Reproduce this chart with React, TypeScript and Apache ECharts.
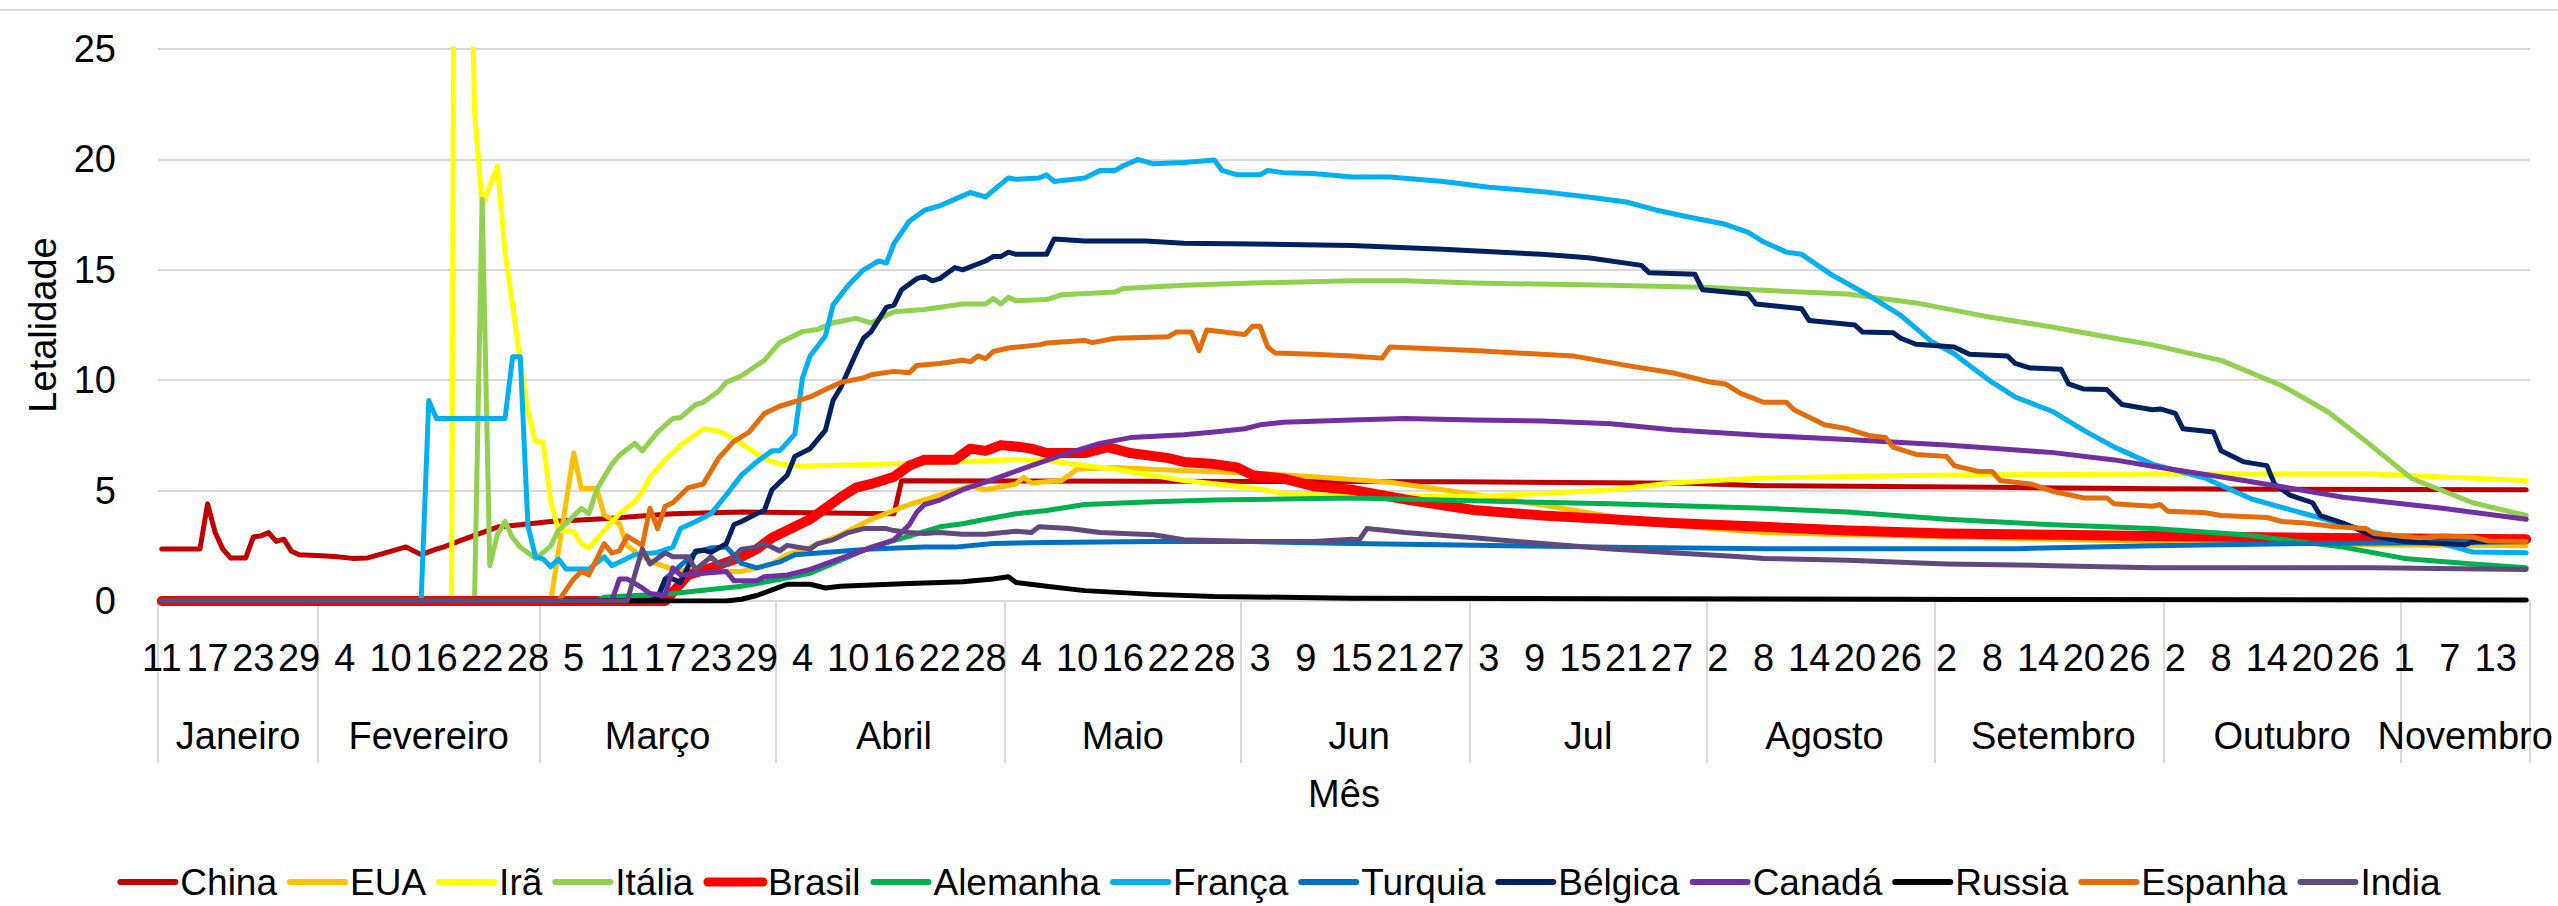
import React, { useEffect, useRef } from "react";
import * as echarts from "echarts";

// ---- axis / category data ----
const monthNames = ["Janeiro", "Fevereiro", "Março", "Abril", "Maio", "Jun", "Jul", "Agosto", "Setembro", "Outubro", "Novembro"];
const monthFirstDay = [11, 1, 1, 1, 1, 1, 1, 1, 1, 1, 1];
const monthLastDay = [31, 29, 31, 30, 31, 30, 31, 30, 30, 31, 17];
const dayLabelEvery = 6;
const yMin = 0;
const yMax = 25;
const yInterval = 5;

const seriesNames = ["China", "EUA", "Irã", "Itália", "Brasil", "Alemanha", "França", "Turquia", "Bélgica", "Canadá", "Russia", "Espanha", "India"];
const seriesColors = ["#C00000", "#FFC000", "#FFFF00", "#92D050", "#FF0000", "#00B050", "#00B0F0", "#0070C0", "#002060", "#7030A0", "#000000", "#E46C0A", "#604A7B"];

// [day position (0 = 11 Jan), lethality %]
const china = [[0,2.35],[5,2.35],[6,4.4],[7,3.1],[8,2.35],[9,1.95],[11,1.95],[12,2.9],[13,2.95],[14,3.1],[15,2.7],[16,2.8],[17,2.25],[18,2.1],[21,2.05],[23,2.0],[25,1.93],[27,1.95],[30,2.25],[32,2.45],[34,2.1],[36,2.35],[37,2.45],[40,2.85],[42,3.1],[44,3.35],[47,3.45],[51,3.6],[58,3.73],[67,3.95],[76,4.03],[85,4.0],[96,3.95],[97,5.45],[130,5.42],[170,5.4],[200,5.33],[210,5.22],[240,5.15],[262,5.08],[310,5.04]];
const eua = [[0,0],[51,0],[54,6.7],[55,5.1],[57,5.1],[58,3.9],[60,3.5],[61,2.5],[63,2.0],[65,1.68],[67,1.43],[71,1.34],[76,1.34],[78,1.5],[80,1.68],[82,2.1],[85,2.44],[89,3.0],[93,3.7],[98,4.37],[102,4.8],[105,5.1],[106,5.2],[108,5.04],[112,5.3],[113,5.6],[114,5.34],[118,5.46],[120,5.97],[125,6.05],[134,5.9],[143,5.8],[151,5.63],[156,5.5],[161,5.38],[168,5.04],[176,4.62],[185,4.12],[194,3.6],[203,3.28],[210,3.1],[235,2.9],[262,2.7],[290,2.55],[310,2.5]];
const ira = [[0,0],[38,0],[39,100],[40,40],[41,22.2],[42,17.9],[43,18.8],[44,19.7],[45,15.8],[46,13.4],[47,10.8],[48,8.6],[49,7.2],[50,7.2],[51,4.5],[52,3.2],[54,3.15],[55,2.6],[56,2.4],[58,3.2],[60,3.95],[62,4.5],[63,4.95],[64,5.6],[66,6.4],[68,7.05],[71,7.8],[73,7.7],[75,7.35],[77,6.9],[79,6.45],[81,6.2],[84,6.1],[95,6.2],[103,6.3],[112,6.4],[116,6.35],[125,5.97],[134,5.46],[143,5.13],[147,4.87],[152,4.8],[160,4.75],[172,4.74],[181,4.87],[190,5.04],[198,5.34],[209,5.56],[234,5.71],[261,5.75],[290,5.75],[310,5.46]];
const italia = [[0,0],[41,0],[42,18.2],[43,1.6],[44,3.0],[45,3.6],[46,2.86],[47,2.44],[48,2.18],[49,1.93],[50,2.2],[51,2.5],[52,3.2],[53,3.5],[55,4.2],[56,3.95],[57,5.04],[59,6.2],[60,6.6],[62,7.14],[63,6.8],[65,7.65],[67,8.27],[68,8.3],[70,8.9],[71,9.0],[73,9.5],[74,9.9],[76,10.2],[79,10.9],[81,11.7],[84,12.2],[86,12.3],[88,12.6],[91,12.8],[93,12.6],[95,12.94],[96,13.1],[100,13.2],[105,13.45],[108,13.45],[109,13.7],[110,13.45],[111,13.75],[112,13.6],[116,13.65],[118,13.87],[125,14.0],[126,14.15],[134,14.3],[143,14.4],[156,14.5],[163,14.5],[172,14.4],[190,14.3],[203,14.2],[210,14.07],[221,13.9],[230,13.5],[239,12.9],[248,12.4],[256,11.9],[261,11.6],[270,10.9],[278,9.75],[284,8.57],[289,7.23],[295,5.55],[303,4.45],[310,3.87]];
const brasil = [[0,0],[66,0],[67,0.4],[69,1.18],[72,1.5],[76,2.0],[78,2.35],[80,2.86],[85,3.7],[89,4.7],[91,5.13],[93,5.3],[96,5.63],[98,6.13],[100,6.4],[104,6.4],[106,6.9],[108,6.8],[110,7.06],[112,7.0],[114,6.9],[116,6.7],[121,6.7],[124,6.97],[127,6.7],[132,6.47],[134,6.3],[138,6.2],[141,6.05],[143,5.7],[147,5.55],[151,5.2],[156,5.04],[163,4.6],[172,4.12],[181,3.87],[190,3.7],[198,3.53],[210,3.36],[221,3.19],[234,3.06],[248,3.0],[261,2.94],[285,2.85],[310,2.8]];
const alemanha = [[0,0],[57,0],[58,0.17],[67,0.34],[76,0.67],[80,0.92],[85,1.26],[89,1.85],[93,2.44],[98,2.94],[102,3.36],[105,3.5],[108,3.7],[112,3.95],[116,4.1],[121,4.37],[130,4.5],[138,4.57],[147,4.62],[156,4.67],[172,4.54],[190,4.4],[210,4.2],[221,4.03],[234,3.7],[248,3.45],[261,3.28],[273,3.0],[286,2.44],[294,1.93],[303,1.68],[310,1.51]];
const franca = [[0,0],[34,0],[35,9.08],[36,8.27],[45,8.27],[46,11.06],[47,11.06],[48,3.4],[49,2.0],[50,1.9],[51,1.55],[52,1.9],[53,1.45],[56,1.45],[58,2.0],[59,1.6],[62,2.1],[65,2.2],[67,2.44],[68,3.28],[70,3.6],[72,3.95],[74,4.8],[76,5.7],[78,6.3],[80,6.8],[81,6.8],[83,7.56],[84,10.1],[85,11.1],[87,12.0],[88,13.4],[90,14.3],[92,15.0],[94,15.4],[95,15.3],[96,16.2],[98,17.2],[100,17.7],[102,17.9],[104,18.2],[106,18.5],[108,18.3],[111,19.16],[112,19.1],[115,19.16],[116,19.3],[117,19.0],[121,19.16],[123,19.5],[125,19.5],[126,19.7],[128,20.0],[130,19.8],[134,19.86],[138,19.97],[139,19.5],[141,19.3],[144,19.3],[145,19.5],[147,19.4],[151,19.36],[156,19.2],[161,19.2],[168,19.0],[174,18.74],[181,18.54],[187,18.3],[192,18.07],[196,17.7],[200,17.4],[205,17.06],[208,16.7],[210,16.27],[213,15.8],[215,15.7],[219,14.76],[224,13.8],[228,12.94],[232,11.76],[235,11.2],[237,10.67],[240,9.9],[243,9.24],[248,8.57],[252,7.73],[256,6.97],[261,6.2],[268,5.55],[274,4.62],[281,3.95],[290,3.1],[299,2.6],[303,2.22],[310,2.18]];
const turquia = [[0,0],[65,0],[66,1.0],[68,1.6],[70,2.2],[72,2.4],[74,2.45],[76,1.7],[78,1.5],[81,1.77],[83,2.1],[93,2.35],[100,2.45],[104,2.44],[109,2.6],[116,2.65],[130,2.69],[143,2.69],[156,2.6],[172,2.52],[190,2.44],[210,2.37],[226,2.37],[243,2.37],[261,2.5],[281,2.6],[303,2.65],[310,2.7]];
const belgica = [[0,0],[64,0],[65,0.17],[66,1.0],[67,1.0],[68,0.84],[70,2.27],[71,2.3],[72,2.2],[74,2.6],[75,3.45],[76,3.6],[78,3.95],[79,4.1],[80,5.04],[82,5.7],[83,6.55],[85,6.9],[87,7.73],[88,9.08],[89,9.66],[91,11.2],[92,11.9],[93,12.2],[95,13.3],[96,13.4],[97,14.1],[99,14.6],[100,14.7],[101,14.5],[102,14.6],[104,15.1],[105,15.0],[108,15.4],[109,15.6],[110,15.6],[111,15.8],[112,15.7],[116,15.7],[117,16.4],[121,16.3],[129,16.3],[134,16.2],[143,16.17],[156,16.1],[168,15.93],[181,15.7],[187,15.55],[194,15.2],[195,14.87],[201,14.8],[202,14.1],[208,13.9],[209,13.45],[215,13.24],[216,12.7],[222,12.5],[223,12.18],[227,12.15],[228,11.9],[230,11.63],[235,11.5],[237,11.18],[242,11.1],[243,10.76],[245,10.55],[249,10.5],[250,9.83],[252,9.6],[255,9.58],[257,8.9],[261,8.66],[262,8.7],[264,8.5],[265,7.8],[269,7.65],[270,6.8],[273,6.3],[276,6.13],[277,5.3],[279,4.8],[282,4.45],[283,3.87],[286,3.53],[290,2.94],[294,2.69],[299,2.6],[302,2.55],[303,2.69],[310,2.69]];
const canada = [[0,0],[59,0],[60,1.0],[61,1.0],[63,0.59],[64,0.34],[66,0.25],[67,1.5],[68,1.18],[71,1.26],[74,1.34],[75,0.92],[78,0.92],[79,1.1],[82,1.18],[85,1.43],[87,1.68],[91,2.18],[96,2.77],[98,3.45],[99,4.03],[100,4.37],[102,4.57],[105,5.04],[108,5.38],[112,5.88],[114,6.13],[119,6.72],[123,7.14],[127,7.4],[134,7.53],[138,7.65],[142,7.8],[144,7.98],[147,8.1],[156,8.2],[163,8.27],[172,8.2],[181,8.15],[190,8.03],[198,7.76],[210,7.5],[221,7.31],[234,7.06],[248,6.72],[256,6.39],[261,6.1],[273,5.46],[286,4.7],[299,4.2],[310,3.7]];
const russia = [[0,0],[74,0],[76,0.08],[78,0.25],[80,0.5],[82,0.76],[85,0.76],[87,0.59],[89,0.67],[93,0.72],[98,0.79],[105,0.87],[109,1.0],[111,1.1],[112,0.84],[116,0.67],[121,0.47],[130,0.3],[138,0.2],[147,0.17],[156,0.13],[190,0.1],[240,0.07],[310,0.05]];
const espanha = [[0,0],[52,0],[54,1.0],[55,1.34],[56,1.18],[58,2.6],[59,2.18],[60,2.27],[61,2.94],[63,2.52],[64,4.2],[65,3.28],[66,4.29],[67,4.45],[69,5.13],[71,5.3],[73,6.47],[75,7.23],[77,7.65],[79,8.49],[81,8.82],[85,9.24],[87,9.58],[89,9.9],[92,10.1],[93,10.25],[96,10.4],[98,10.34],[99,10.67],[102,10.76],[105,10.9],[106,10.84],[107,11.1],[108,10.97],[109,11.3],[111,11.46],[115,11.6],[116,11.68],[121,11.8],[122,11.7],[125,11.9],[132,11.97],[133,12.18],[135,12.18],[136,11.34],[137,12.27],[142,12.07],[143,12.44],[144,12.44],[145,11.5],[146,11.23],[151,11.18],[156,11.1],[160,11.0],[161,11.5],[172,11.34],[185,11.1],[192,10.67],[198,10.34],[203,9.92],[205,9.83],[207,9.4],[210,9.0],[213,9.0],[214,8.66],[216,8.32],[218,7.98],[221,7.8],[224,7.48],[226,7.4],[227,6.97],[230,6.64],[234,6.55],[235,6.13],[238,5.88],[240,5.86],[241,5.46],[245,5.3],[248,4.96],[252,4.67],[255,4.67],[256,4.4],[261,4.29],[262,4.37],[263,4.07],[268,4.0],[270,3.87],[276,3.78],[278,3.6],[281,3.53],[285,3.36],[289,3.28],[290,3.06],[296,2.86],[299,2.94],[303,2.9],[305,2.72],[310,2.69]];
const india = [[0,0],[61,0],[63,2.35],[64,1.68],[66,2.18],[67,2.0],[69,2.0],[70,1.43],[72,2.0],[73,1.68],[74,1.65],[76,2.35],[78,2.44],[79,2.6],[81,2.27],[82,2.52],[85,2.35],[86,2.6],[88,2.77],[90,3.1],[92,3.28],[95,3.28],[96,3.19],[98,3.1],[100,3.06],[102,3.1],[105,3.02],[108,3.02],[112,3.16],[114,3.1],[115,3.36],[119,3.28],[123,3.1],[130,3.0],[134,2.77],[143,2.69],[151,2.69],[156,2.8],[157,2.77],[158,3.28],[163,3.1],[172,2.86],[181,2.6],[190,2.35],[198,2.18],[207,2.0],[210,1.93],[221,1.85],[234,1.68],[248,1.6],[261,1.51],[290,1.51],[310,1.43]];

const seriesData = [china, eua, ira, italia, brasil, alemanha, franca, turquia, belgica, canada, russia, espanha, india];

const FONT = "'Liberation Sans Narrow', 'Arial Narrow', 'Liberation Sans', sans-serif";

export default function App() {
  const ref = useRef<HTMLDivElement>(null);
  useEffect(() => {
    if (!ref.current) return;
    const chart = echarts.init(ref.current, undefined, { renderer: "svg" });

    const categories: string[] = [];
    const monthStart = new Set<number>();
    const monthMid = new Map<number, string>();
    monthNames.forEach((m, mi) => {
      monthStart.add(categories.length);
      const n = monthLastDay[mi] - monthFirstDay[mi] + 1;
      monthMid.set(categories.length + Math.round((n - 1) / 2), m);
      for (let d = monthFirstDay[mi]; d <= monthLastDay[mi]; d++) categories.push(`${d}/${mi + 1}`);
    });

    const textBase = { fontFamily: FONT, fontSize: 38, color: "#000" };

    chart.setOption({
      animation: false,
      backgroundColor: "#fff",
      graphic: [
        { type: "line", shape: { x1: 0, y1: 10, x2: 2558, y2: 10 }, style: { stroke: "#d9d9d9", lineWidth: 2 } },
      ],
      grid: { left: 158, right: 28, top: 49, bottom: 305, containLabel: false },
      legend: {
        top: 858,
        left: "center",
        itemWidth: 55,
        itemHeight: 14,
        itemGap: 10,
        textStyle: { fontFamily: FONT, fontSize: 37, color: "#000", lineHeight: 38 },
        itemStyle: { opacity: 0 },
        lineStyle: { cap: "round" },
        data: seriesNames.map((n) => ({ name: n, lineStyle: { width: n === "Brasil" ? 9 : 6, cap: "round" }, itemStyle: { opacity: 0 } })),
      },
      xAxis: [
        {
          type: "category",
          data: categories,
          boundaryGap: true,
          name: "Mês",
          nameLocation: "middle",
          nameGap: 174,
          nameTextStyle: { ...textBase },
          axisLine: { show: true, lineStyle: { color: "#d9d9d9", width: 2 } },
          axisTick: {
            show: true,
            interval: (i: number) => monthStart.has(i),
            length: 162,
            lineStyle: { color: "#d9d9d9", width: 2 },
          },
          axisLabel: {
            interval: (i: number) => i % dayLabelEvery === 0,
            formatter: (v: string) => v.split("/")[0],
            margin: 38,
            ...textBase,
          },
          splitLine: { show: false },
        },
        {
          type: "category",
          data: categories,
          position: "bottom",
          boundaryGap: true,
          axisLine: { show: false },
          axisTick: { show: false },
          axisLabel: {
            interval: (i: number) => monthMid.has(i),
            formatter: (_v: string, i: number) => monthMid.get(i) || "",
            margin: 116,
            ...textBase,
          },
          splitLine: { show: false },
        },
      ],
      yAxis: {
        type: "value",
        min: yMin,
        max: yMax,
        interval: yInterval,
        name: "Letalidade",
        nameLocation: "middle",
        nameGap: 96,
        nameTextStyle: { ...textBase },
        axisLine: { show: false },
        axisTick: { show: false },
        axisLabel: { margin: 42, ...textBase },
        splitLine: { show: true, lineStyle: { color: "#d9d9d9", width: 2 } },
      },
      series: seriesNames.map((n, i) => ({
        name: n,
        type: "line",
        xAxisIndex: 0,
        data: seriesData[i],
        symbol: "none",
        showSymbol: false,
        clip: true,
        color: seriesColors[i],
        lineStyle: { color: seriesColors[i], width: n === "Brasil" ? 10 : 5, cap: "round", join: "round" },
        itemStyle: { color: seriesColors[i] },
        emphasis: { disabled: true },
      })),
    });
    return () => chart.dispose();
  }, []);
  return <div ref={ref} style={{ position: "absolute", left: 0, top: 0, width: 2558, height: 906 }} />;
}
